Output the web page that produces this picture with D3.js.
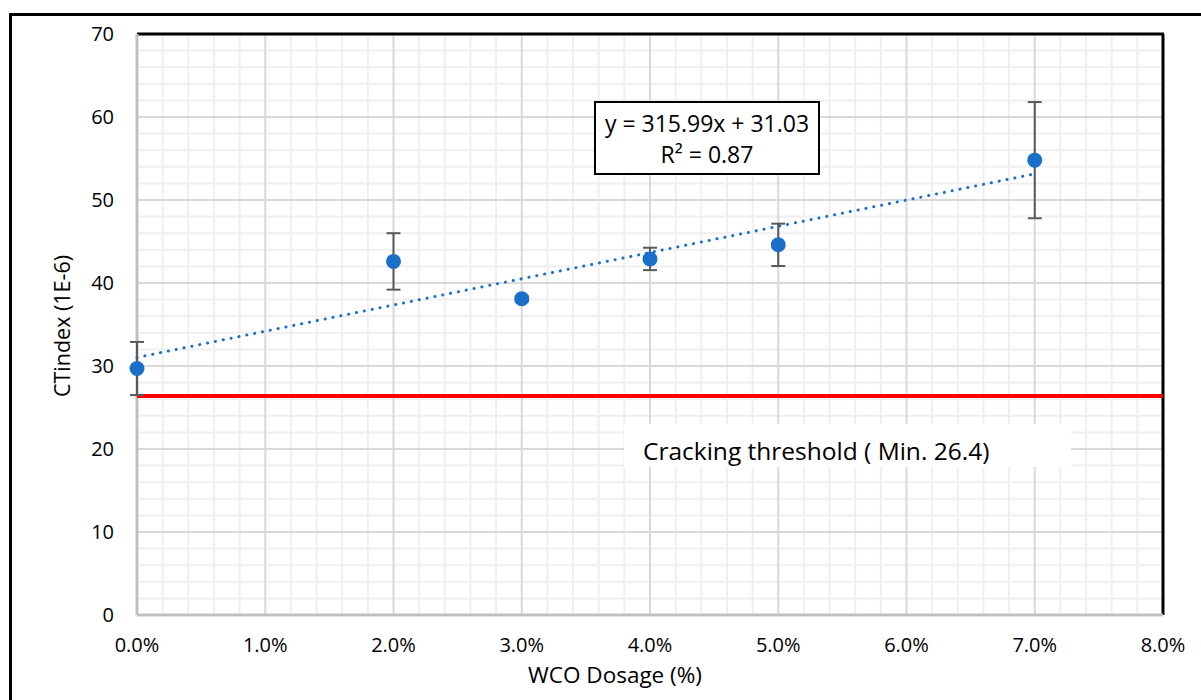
<!DOCTYPE html>
<html>
<head>
<meta charset="utf-8">
<script src="https://cdn.jsdelivr.net/npm/d3@7"></script>
<style>
  html, body { margin: 0; padding: 0; background: #fff; }
  svg { display: block; font-family: "Open Sans", "Noto Sans", sans-serif; }
</style>
</head>
<body>
<svg id="chart" width="1201" height="700"></svg>
<script>
// ---- data ----
const dosage = [0.00, 0.02, 0.03, 0.04, 0.05, 0.07];
const ctIndex = [29.7, 42.6, 38.1, 42.9, 44.6, 54.8];
const errPlusMinus = [3.2, 3.4, 0.3, 1.35, 2.55, 7.0];
const xTicks = [0, 0.01, 0.02, 0.03, 0.04, 0.05, 0.06, 0.07, 0.08];
const yTicks = [0, 10, 20, 30, 40, 50, 60, 70];
const trendSlope = 315.99;
const trendIntercept = 31.03;
const threshold = 26.4;
const equationLines = ["y = 315.99x + 31.03", "R² = 0.87"];
const thresholdLabel = "Cracking threshold ( Min. 26.4)";
const xTitle = "WCO Dosage (%)";
const yTitle = "CTindex (1E-6)";

(function () {
// ---- layout ----
const svg = d3.select("#chart");
const pL = 137, pR = 1163, pT = 34, pB = 615;
const x = d3.scaleLinear().domain([0, 0.08]).range([pL, pR]);
const y = d3.scaleLinear().domain([0, 70]).range([pB, pT]);

// outer frame
svg.append("rect").attr("x", 10.5).attr("y", 14.5).attr("width", 1220).attr("height", 720)
  .attr("fill", "none").attr("stroke", "#000").attr("stroke-width", 3);

// minor grid
const xMinor = d3.range(0, 0.0801, 0.002).filter((d, i) => i % 5 !== 0);
const yMinor = d3.range(0, 70.01, 2).filter((d, i) => i % 5 !== 0);
const grid = svg.append("g");
grid.selectAll(".xm").data(xMinor).join("line")
  .attr("x1", d => x(d)).attr("x2", d => x(d)).attr("y1", pT).attr("y2", pB)
  .attr("stroke", "#efefef").attr("stroke-width", 2);
grid.selectAll(".ym").data(yMinor).join("line")
  .attr("y1", d => y(d)).attr("y2", d => y(d)).attr("x1", pL).attr("x2", pR)
  .attr("stroke", "#efefef").attr("stroke-width", 2);
// major grid
grid.selectAll(".xM").data(xTicks.slice(1, -1)).join("line")
  .attr("x1", d => x(d)).attr("x2", d => x(d)).attr("y1", pT).attr("y2", pB)
  .attr("stroke", "#d9d9d9").attr("stroke-width", 2);
grid.selectAll(".yM").data(yTicks.slice(1, -1)).join("line")
  .attr("y1", d => y(d)).attr("y2", d => y(d)).attr("x1", pL).attr("x2", pR)
  .attr("stroke", "#d9d9d9").attr("stroke-width", 2);

// plot border: top/right black, left/bottom grey axes
svg.append("line").attr("x1", pL).attr("x2", pR + 1).attr("y1", pT).attr("y2", pT)
  .attr("stroke", "#000").attr("stroke-width", 3);
svg.append("line").attr("x1", pR).attr("x2", pR).attr("y1", pT).attr("y2", pB)
  .attr("stroke", "#000").attr("stroke-width", 3);
svg.append("line").attr("x1", pL).attr("x2", pL).attr("y1", pT).attr("y2", pB)
  .attr("stroke", "#bfbfbf").attr("stroke-width", 3);
svg.append("line").attr("x1", pL).attr("x2", pR).attr("y1", pB).attr("y2", pB)
  .attr("stroke", "#bfbfbf").attr("stroke-width", 3);

// axes text
const fmt = d3.format(".1%");
svg.append("g").selectAll("text").data(xTicks).join("text")
  .attr("x", d => x(d)).attr("y", 652).attr("text-anchor", "middle")
  .attr("font-size", 20).attr("fill", "#000").text(d => fmt(d));
svg.append("g").selectAll("text").data(yTicks).join("text")
  .attr("x", pL - 23).attr("y", d => y(d) + 7).attr("text-anchor", "end")
  .attr("font-size", 20).attr("fill", "#000").text(d => d);
svg.append("text").attr("x", 615).attr("y", 683).attr("text-anchor", "middle")
  .attr("font-size", 22.5).attr("fill", "#000").text(xTitle);
svg.append("text").attr("transform", "translate(70," + 326 + ") rotate(-90)")
  .attr("text-anchor", "middle").attr("font-size", 21.5).attr("fill", "#000").text(yTitle);

// threshold line
svg.append("line").attr("x1", x(0)).attr("x2", x(0.08)).attr("y1", y(threshold)).attr("y2", y(threshold))
  .attr("stroke", "#ff0000").attr("stroke-width", 4);

// threshold label box
svg.append("rect").attr("x", 624).attr("y", 424).attr("width", 447).attr("height", 43).attr("fill", "#fff");
svg.append("text").attr("x", 643).attr("y", 460).attr("font-size", 24.5).attr("fill", "#000").text(thresholdLabel);

// trendline
svg.append("line")
  .attr("x1", x(0)).attr("y1", y(trendIntercept))
  .attr("x2", x(0.07)).attr("y2", y(trendSlope * 0.07 + trendIntercept))
  .attr("stroke", "#1a6fc9").attr("stroke-width", 3).attr("stroke-linecap", "round")
  .attr("stroke-dasharray", "0.1 7.9");

// error bars
const pts = dosage.map((d, i) => ({ x: d, y: ctIndex[i], e: errPlusMinus[i] }));
const eb = svg.append("g").attr("stroke", "#595959").attr("stroke-width", 2);
eb.selectAll(".v").data(pts).join("line")
  .attr("x1", d => x(d.x)).attr("x2", d => x(d.x))
  .attr("y1", d => y(d.y - d.e)).attr("y2", d => y(d.y + d.e));
eb.selectAll(".t").data(pts).join("line")
  .attr("x1", d => x(d.x) - 7).attr("x2", d => x(d.x) + 7)
  .attr("y1", d => y(d.y + d.e)).attr("y2", d => y(d.y + d.e));
eb.selectAll(".b").data(pts).join("line")
  .attr("x1", d => x(d.x) - 7).attr("x2", d => x(d.x) + 7)
  .attr("y1", d => y(d.y - d.e)).attr("y2", d => y(d.y - d.e));

// points
svg.append("g").selectAll("circle").data(pts).join("circle")
  .attr("cx", d => x(d.x)).attr("cy", d => y(d.y)).attr("r", 7.5)
  .attr("fill", "#1a6fc9");

// equation box
svg.append("rect").attr("x", 595).attr("y", 102).attr("width", 224).attr("height", 72)
  .attr("fill", "#fff").attr("stroke", "#000").attr("stroke-width", 2);
svg.append("g").selectAll("text").data(equationLines).join("text")
  .attr("x", 707).attr("y", (d, i) => 132 + i * 31).attr("text-anchor", "middle")
  .attr("font-size", 23).attr("fill", "#000").text(d => d);
})();
</script>
</body>
</html>
